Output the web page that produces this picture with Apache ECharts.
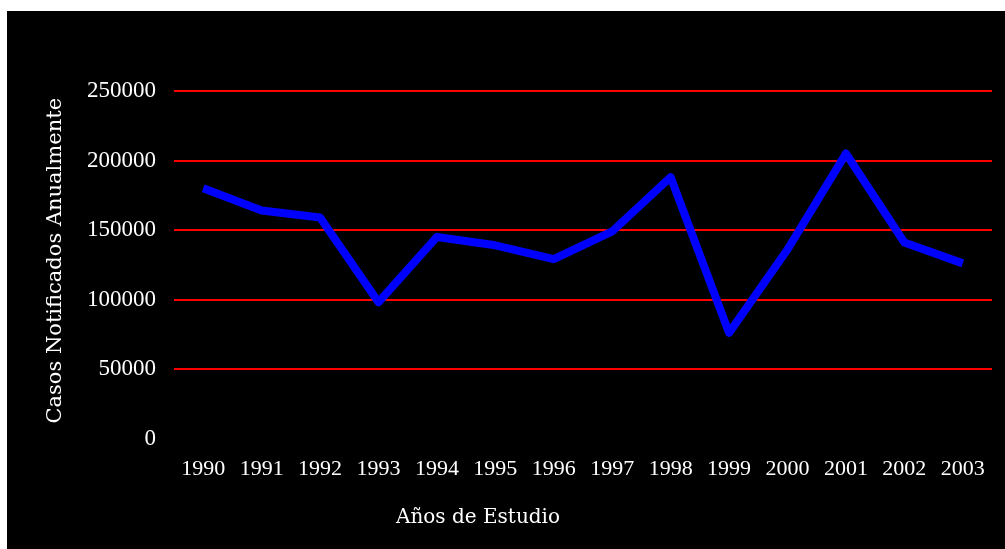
<!DOCTYPE html>
<html>
<head>
<meta charset="utf-8">
<script src="https://cdn.jsdelivr.net/npm/echarts@6/dist/echarts.min.js"></script>
<style>
  html, body { margin: 0; padding: 0; background: #ffffff; overflow: hidden; }
  #chart { position: absolute; left: 7px; top: 11px; width: 998px; height: 538px; background: #000000; }
</style>
</head>
<body>
<div id="chart"></div>
<script>
// Años de estudio (categorías del eje X)
const years = ['1990', '1991', '1992', '1993', '1994', '1995', '1996',
               '1997', '1998', '1999', '2000', '2001', '2002', '2003'];
// Casos notificados por año
const casos = [180000, 164000, 159000, 98000, 145000, 139000, 129000,
               149000, 188000, 76000, 136000, 205000, 141000, 126000];
// Escala del eje Y
const yMin = 0;
const yMax = 250000;
const yStep = 50000;

const chart = echarts.init(document.getElementById('chart'), null, { renderer: 'canvas' });

chart.setOption({
  backgroundColor: '#000000',
  animation: false,
  title: {
    text: 'Años de Estudio',
    left: 466,
    top: 492,
    textAlign: 'center',
    textStyle: {
      color: '#ffffff',
      fontFamily: 'DejaVu Serif',
      fontSize: 20,
      fontWeight: 'normal'
    }
  },
  grid: {
    left: 167,
    top: 80,
    width: 818,
    height: 347.5
  },
  xAxis: {
    type: 'category',
    data: years,
    boundaryGap: true,
    axisLine: { show: false },
    axisTick: { show: false },
    splitLine: { show: false },
    axisLabel: {
      color: '#ffffff',
      fontFamily: 'Liberation Serif',
      fontSize: 22,
      margin: 20,
      interval: 0
    }
  },
  yAxis: {
    type: 'value',
    min: yMin,
    max: yMax,
    interval: yStep,
    name: 'Casos Notificados Anualmente',
    nameLocation: 'middle',
    nameRotate: 90,
    nameGap: 108,
    nameTextStyle: {
      color: '#ffffff',
      fontFamily: 'DejaVu Serif',
      fontSize: 21,
      padding: [0, 0, 0, 8]
    },
    axisLine: { show: false },
    axisTick: { show: false },
    axisLabel: {
      color: '#ffffff',
      fontFamily: 'Liberation Serif',
      fontSize: 23,
      margin: 18,
      formatter: function (v) { return String(v); }
    },
    splitLine: {
      show: true,
      showMinLine: false,
      lineStyle: { color: '#ff0000', width: 2 }
    }
  },
  series: [{
    type: 'line',
    data: casos,
    showSymbol: false,
    symbol: 'none',
    smooth: false,
    lineStyle: {
      color: '#0000ff',
      width: 8,
      join: 'round',
      cap: 'butt'
    }
  }]
});
</script>
</body>
</html>
